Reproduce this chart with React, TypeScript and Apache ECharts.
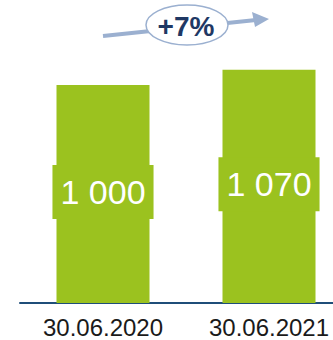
import React, { useEffect, useRef } from "react";
import * as echarts from "echarts";

const categories = ["30.06.2020", "30.06.2021"];
const values = [1000, 1070];
const valueLabels = ["1 000", "1 070"];
const growthLabel = "+7%";

const GREEN = "#9bc21f";
const FONT = "'Liberation Sans', Arial, sans-serif";

export default function App() {
  const ref = useRef<HTMLDivElement>(null);
  useEffect(() => {
    if (!ref.current) return;
    const chart = echarts.init(ref.current, null, { renderer: "svg" });
    chart.setOption({
      animation: false,
      grid: { left: 20, right: 0, top: 41.4, bottom: 37 },
      xAxis: {
        type: "category",
        data: categories,
        axisLine: { show: true, lineStyle: { color: "#1f4e79", width: 2 } },
        axisTick: { show: false },
        axisLabel: {
          color: "#1a1a1a",
          fontSize: 24,
          fontFamily: FONT,
          margin: 12,
        },
      },
      yAxis: {
        type: "value",
        min: 0,
        max: 1200,
        show: false,
        splitLine: { show: false },
      },
      series: [
        {
          type: "bar",
          data: values,
          barWidth: 93,
          itemStyle: { color: GREEN },
          label: {
            show: true,
            position: "inside",
            formatter: (p: any) => valueLabels[p.dataIndex],
            color: "#ffffff",
            fontSize: 34,
            fontFamily: FONT,
            backgroundColor: GREEN,
            padding: [10, 8, 10, 8],
            offset: [0, -2],
          },
        },
      ],
      graphic: [
        {
          type: "line",
          shape: { x1: 103, y1: 36, x2: 256, y2: 20 },
          style: { stroke: "#9bb0d0", lineWidth: 4 },
          z: 10,
        },
        {
          type: "polygon",
          shape: { points: [[252, 12], [269, 19], [255, 27]] },
          style: { fill: "#9bb0d0" },
          z: 10,
        },
        {
          type: "ellipse",
          shape: { cx: 187, cy: 25, rx: 41, ry: 20 },
          style: { fill: "#ffffff", stroke: "#9bb0d0", lineWidth: 1.5 },
          z: 11,
        },
        {
          type: "text",
          x: 186,
          y: 26,
          style: {
            text: growthLabel,
            fill: "#1f3864",
            font: `bold 28px ${FONT}`,
            textAlign: "center",
            textVerticalAlign: "middle",
          },
          z: 12,
        },
      ],
    });
    return () => chart.dispose();
  }, []);
  return (
    <div
      style={{
        position: "absolute",
        left: 0,
        top: 0,
        width: 333,
        height: 340,
        overflow: "hidden",
      }}
    >
      <div ref={ref} style={{ width: 352, height: 340 }} />
    </div>
  );
}
